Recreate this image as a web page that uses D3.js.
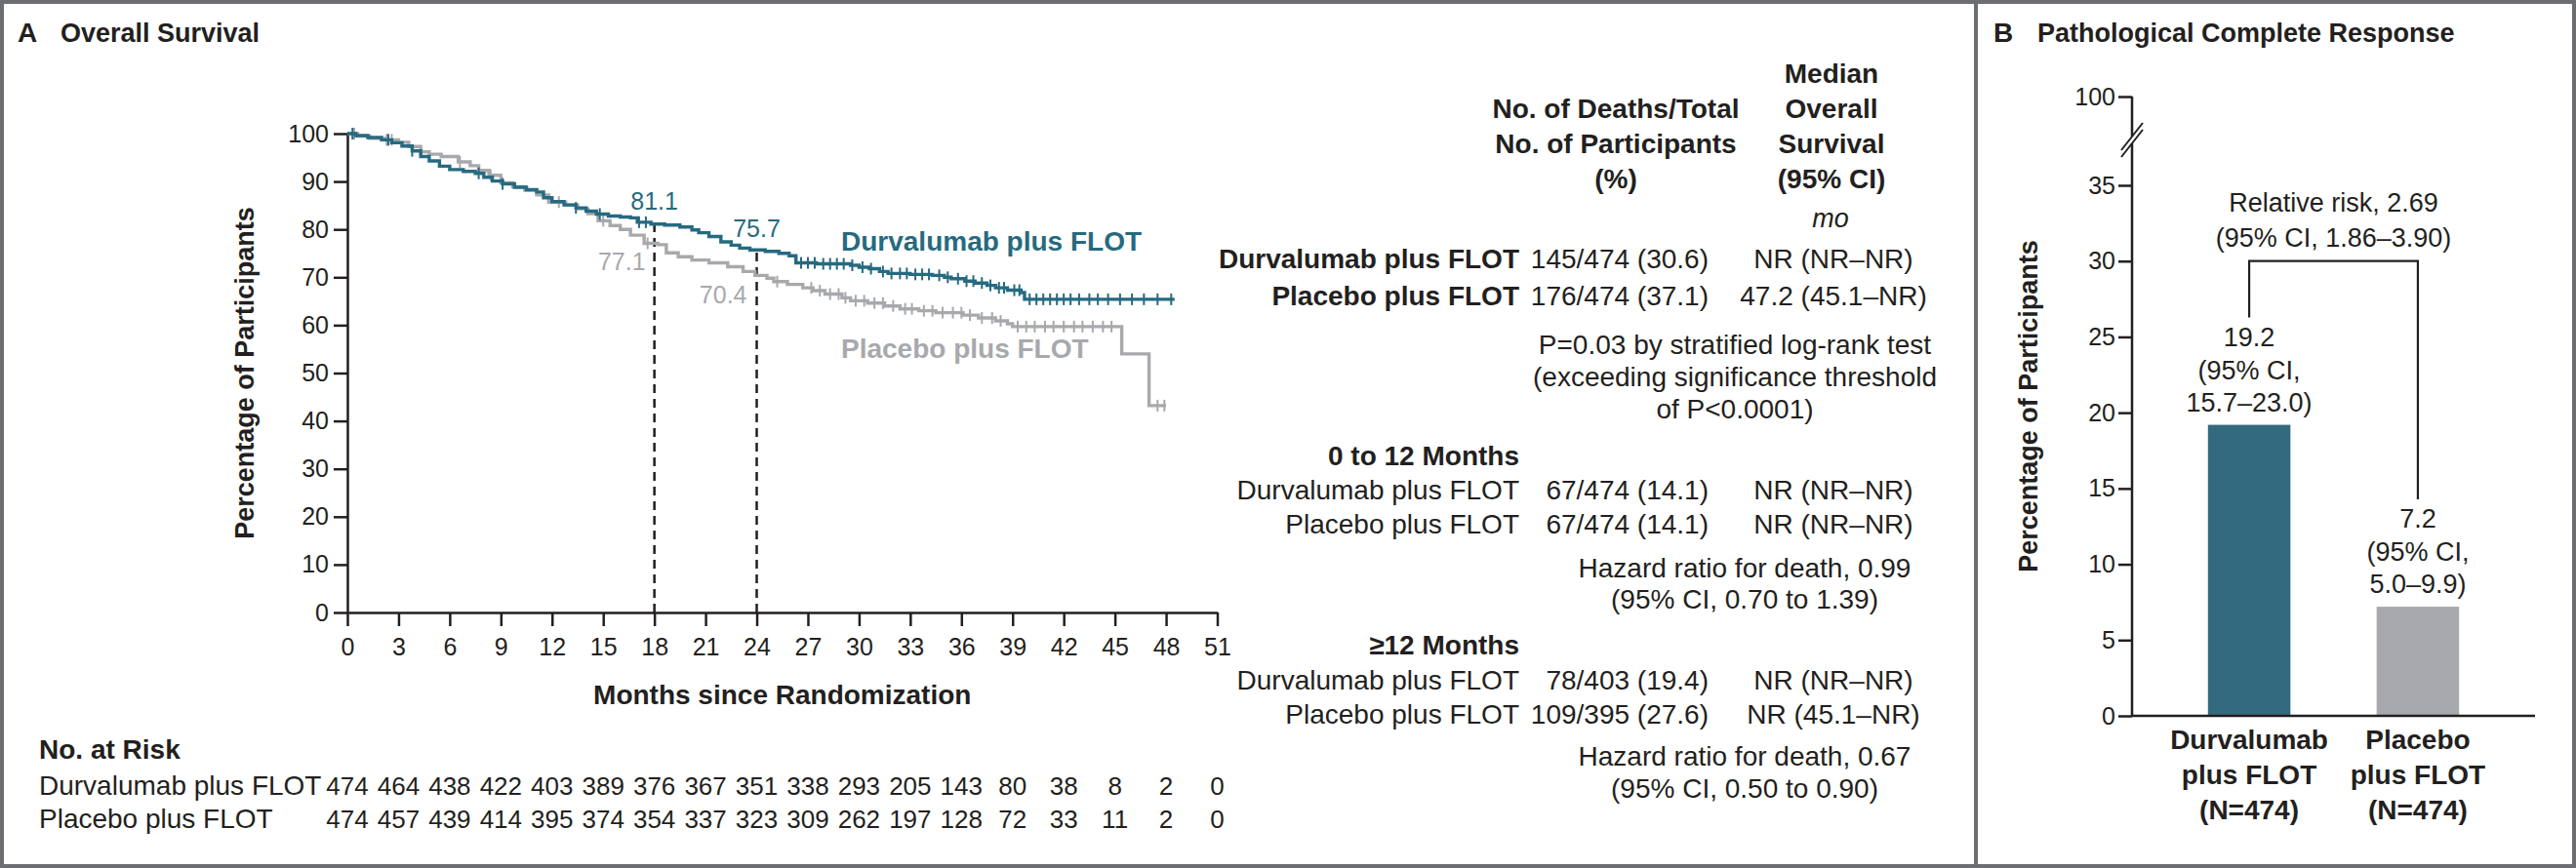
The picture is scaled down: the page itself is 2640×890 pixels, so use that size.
<!DOCTYPE html>
<html>
<head>
<meta charset="utf-8">
<script src="https://cdn.jsdelivr.net/npm/d3@7"></script>
<style>
  body { margin: 0; background: #fff; }
  svg { display: block; font-family: "Liberation Sans", Arial, sans-serif; }
</style>
</head>
<body>
<svg id="chart" width="2640" height="890"></svg>
<script>
// ---------- data ----------
const riskMonths = [0, 3, 6, 9, 12, 15, 18, 21, 24, 27, 30, 33, 36, 39, 42, 45, 48, 51];
const durvRisk = [474, 464, 438, 422, 403, 389, 376, 367, 351, 338, 293, 205, 143, 80, 38, 8, 2, 0];
const placRisk = [474, 457, 439, 414, 395, 374, 354, 337, 323, 309, 262, 197, 128, 72, 33, 11, 2, 0];
const osTicks = [0, 10, 20, 30, 40, 50, 60, 70, 80, 90, 100];

// Kaplan-Meier steps (months, % alive)
const durvT = [0, 0.5, 1.2, 2.0, 2.6, 3.2, 3.8, 4.3, 4.8, 5.4, 6.0, 6.8, 7.5, 8.0, 8.5, 9.1, 9.8, 10.5, 11.1, 11.5,
  12.0, 12.7, 13.4, 14.0, 14.6, 15.3, 16.0, 16.6, 17.0, 17.8, 18.6, 19.5, 20.2, 20.6, 21.2, 21.9, 22.5, 23.0, 23.6, 24.5,
  25.3, 25.9, 26.3, 27.5, 29.5, 30.0, 30.6, 31.2, 31.7, 33.0, 34.3, 35.0, 35.4, 36.2, 36.8, 37.5, 38.0, 38.7, 39.5, 39.7, 48.5];
const durvS = [100, 99.6, 99.2, 98.7, 98.1, 97.4, 96.4, 95.2, 94.3, 93.2, 92.5, 92.1, 91.7, 90.9, 90.1, 89.5, 88.8, 88.3, 87.8, 86.6,
  85.8, 85.1, 84.5, 83.8, 83.2, 82.8, 82.6, 82.4, 81.5, 81.1, 80.9, 80.5, 79.9, 79.3, 78.5, 77.4, 76.7, 76.1, 75.7, 75.4,
  75.0, 74.5, 73.0, 72.8, 72.5, 72.1, 71.8, 71.2, 70.8, 70.6, 70.4, 70.0, 69.7, 69.2, 68.8, 68.3, 67.8, 67.3, 66.8, 65.4, 65.4];
const placT = [0, 0.6, 1.3, 2.2, 3.0, 3.6, 4.3, 4.8, 5.5, 6.5, 7.2, 7.7, 8.3, 9.0, 9.7, 10.4, 11.1, 11.8, 12.8, 13.5,
  14.1, 14.7, 15.4, 16.0, 16.6, 17.4, 18.2, 18.7, 19.4, 20.2, 21.2, 22.3, 23.2, 23.9, 24.6, 25.0, 25.8, 26.7, 27.3, 28.0,
  29.0, 29.5, 30.5, 31.5, 32.4, 33.5, 34.5, 36.1, 37.0, 38.0, 38.7, 39.0, 45.4, 47.0, 48.0];
const placS = [100, 99.5, 99.0, 98.7, 98.2, 97.3, 96.2, 95.7, 95.2, 94.1, 93.3, 92.3, 91.3, 89.7, 88.9, 88.2, 87.2, 85.7, 85.1, 84.3,
  83.3, 81.8, 80.8, 80.0, 78.8, 77.1, 76.8, 75.1, 74.3, 73.6, 73.0, 72.2, 71.2, 70.4, 69.8, 69.1, 68.5, 67.8, 67.2, 66.5,
  65.7, 65.1, 64.6, 64.0, 63.4, 63.0, 62.6, 62.1, 61.5, 60.9, 60.3, 59.7, 54.0, 43.2, 43.2];
// censoring times
const durvCens = [0.3, 2.4, 3.8, 7.7, 9.1, 13.4, 14.8, 17.1, 17.5, 26.6, 27.0, 27.4, 27.9, 28.3, 28.7, 29.1, 29.6, 30.2, 30.7,
  31.4, 31.9, 32.4, 32.8, 33.3, 33.7, 34.1, 34.7, 35.2, 35.8, 36.3, 36.7, 37.2, 37.7, 38.2, 38.5, 39.1, 39.4, 40.0, 40.4,
  40.8, 41.2, 41.6, 42.0, 42.4, 42.9, 43.5, 44.0, 44.6, 45.3, 46.0, 46.7, 47.5, 48.3];
const placCens = [0.4, 2.3, 2.6, 6.6, 8.4, 12.4, 15.0, 17.6, 25.2, 27.2, 27.7, 28.3, 28.8, 29.2, 29.8, 30.3, 30.9, 31.4, 32.0,
  32.7, 33.1, 33.8, 34.3, 34.9, 35.5, 36.0, 36.5, 37.2, 37.8, 38.3, 39.3, 39.8, 40.3, 40.9, 41.4, 42.0, 42.6, 43.1, 43.7,
  44.3, 44.8, 47.5, 47.9];

const landmarks = [18, 24];
const durvLandmark = ["81.1", "75.7"];
const placLandmark = ["77.1", "70.4"];

// table beside the curves
const colHead1 = ["No. of Deaths/Total", "No. of Participants", "(%)"];
const colHead2 = ["Median", "Overall", "Survival", "(95% CI)"];
const overallRows = [
  ["Durvalumab plus FLOT", "145/474 (30.6)", "NR (NR\u2013NR)"],
  ["Placebo plus FLOT", "176/474 (37.1)", "47.2 (45.1\u2013NR)"]
];
const overallNote = ["P=0.03 by stratified log-rank test", "(exceeding significance threshold", "of P<0.0001)"];
const earlyRows = [
  ["Durvalumab plus FLOT", "67/474 (14.1)", "NR (NR\u2013NR)"],
  ["Placebo plus FLOT", "67/474 (14.1)", "NR (NR\u2013NR)"]
];
const earlyNote = ["Hazard ratio for death, 0.99", "(95% CI, 0.70 to 1.39)"];
const lateRows = [
  ["Durvalumab plus FLOT", "78/403 (19.4)", "NR (NR\u2013NR)"],
  ["Placebo plus FLOT", "109/395 (27.6)", "NR (45.1\u2013NR)"]
];
const lateNote = ["Hazard ratio for death, 0.67", "(95% CI, 0.50 to 0.90)"];

// panel B
const pcrGroups = ["Durvalumab plus FLOT", "Placebo plus FLOT"];
const pcrLabels = [["Durvalumab", "plus FLOT", "(N=474)"], ["Placebo", "plus FLOT", "(N=474)"]];
const pcrValues = [19.2, 7.2];
const pcrCI = ["15.7\u201323.0)", "5.0\u20139.9)"];
const pcrTicks = [0, 5, 10, 15, 20, 25, 30, 35, 100];
const relRisk = ["Relative risk, 2.69", "(95% CI, 1.86\u20133.90)"];

// ---------- drawing ----------
const ink = "#231f20";
const teal = "#266a80";
const grey = "#a7a9ac";
const svg = d3.select("#chart");

function txt(x, y, s, size, opts = {}) {
  return svg.append("text")
    .attr("x", x).attr("y", y)
    .attr("font-size", size)
    .attr("font-weight", opts.bold ? "bold" : null)
    .attr("font-style", opts.italic ? "italic" : null)
    .attr("text-anchor", opts.anchor || "start")
    .attr("fill", opts.fill || ink)
    .text(s);
}

function styleAxis(g, size) {
  g.attr("font-family", null).attr("font-size", null);
  g.selectAll("path, line").attr("stroke", ink).attr("stroke-width", 2.5);
  g.selectAll("text").attr("fill", ink).attr("font-size", size);
}

// frame
svg.append("rect").attr("x", 2).attr("y", 2).attr("width", 2636).attr("height", 886)
  .attr("fill", "none").attr("stroke", "#6d6e71").attr("stroke-width", 4);
svg.append("line").attr("x1", 2025).attr("x2", 2025).attr("y1", 0).attr("y2", 890)
  .attr("stroke", "#6d6e71").attr("stroke-width", 4);

// panel titles
txt(18, 43, "A", 28, { bold: true });
txt(62, 43, "Overall Survival", 27, { bold: true });
txt(2043, 43, "B", 28, { bold: true });
txt(2088, 43, "Pathological Complete Response", 27, { bold: true });

// ----- panel A : Kaplan-Meier -----
const x = d3.scaleLinear().domain([0, 51]).range([356, 1247.5]);
const y = d3.scaleLinear().domain([0, 100]).range([628, 137]);

svg.append("g").attr("transform", `translate(0,${y(0)})`)
  .call(d3.axisBottom(x).tickValues(riskMonths).tickSize(14).tickSizeOuter(0).tickPadding(12))
  .call(g => styleAxis(g, 25));
svg.append("g").attr("transform", `translate(${x(0)},0)`)
  .call(d3.axisLeft(y).tickValues(osTicks).tickSize(14).tickSizeOuter(0).tickPadding(5))
  .call(g => styleAxis(g, 25));

svg.append("text")
  .attr("transform", `translate(260,${(y(0) + y(100)) / 2}) rotate(-90)`)
  .attr("text-anchor", "middle").attr("font-size", 27).attr("font-weight", "bold").attr("fill", ink)
  .text("Percentage of Participants");
txt((x(0) + x(51)) / 2, 722, "Months since Randomization", 28, { bold: true, anchor: "middle" });

// landmark dashed lines
landmarks.forEach((m, i) => {
  svg.append("line").attr("x1", x(m)).attr("x2", x(m))
    .attr("y1", y(0)).attr("y2", y(+durvLandmark[i]))
    .attr("stroke", ink).attr("stroke-width", 2.5).attr("stroke-dasharray", "9,6");
});

const line = d3.line().curve(d3.curveStepAfter).x(d => x(d[0])).y(d => y(d[1]));
function stepAt(T, S, t) {
  let v = S[0];
  for (let i = 0; i < T.length; i++) if (T[i] <= t) v = S[i];
  return v;
}
function drawCurve(T, S, cens, color) {
  svg.append("path").datum(d3.zip(T, S))
    .attr("fill", "none").attr("stroke", color).attr("stroke-width", 3.4)
    .attr("d", line);
  svg.append("g").selectAll("line").data(cens).join("line")
    .attr("x1", d => x(d)).attr("x2", d => x(d))
    .attr("y1", d => y(stepAt(T, S, d)) - 6).attr("y2", d => y(stepAt(T, S, d)) + 6)
    .attr("stroke", color).attr("stroke-width", 2);
}
drawCurve(placT, placS, placCens, grey);
drawCurve(durvT, durvS, durvCens, teal);

// landmark values
txt(x(18), 215, durvLandmark[0], 25, { anchor: "middle", fill: teal });
txt(x(24), 243, durvLandmark[1], 25, { anchor: "middle", fill: teal });
txt(x(18) - 9, 277, placLandmark[0], 25, { anchor: "end", fill: grey });
txt(x(24) - 10, 311, placLandmark[1], 25, { anchor: "end", fill: grey });

txt(862, 257, "Durvalumab plus FLOT", 28, { bold: true, fill: teal });
txt(862, 367, "Placebo plus FLOT", 28, { bold: true, fill: grey });

// number at risk
txt(40, 778, "No. at Risk", 28, { bold: true });
txt(40, 815, "Durvalumab plus FLOT", 28);
txt(40, 849, "Placebo plus FLOT", 28);
svg.append("g").selectAll("text").data(durvRisk).join("text")
  .attr("x", (d, i) => x(riskMonths[i])).attr("y", 815)
  .attr("text-anchor", "middle").attr("font-size", 26).attr("fill", ink).text(d => d);
svg.append("g").selectAll("text").data(placRisk).join("text")
  .attr("x", (d, i) => x(riskMonths[i])).attr("y", 849)
  .attr("text-anchor", "middle").attr("font-size", 26).attr("fill", ink).text(d => d);

// table
const col1Right = 1751, col2Mid = 1879, labRight = 1557;
colHead1.forEach((s, i) => txt(1656, 121 + i * 36, s, 28, { bold: true, anchor: "middle" }));
colHead2.forEach((s, i) => txt(col2Mid - 2, 85 + i * 36, s, 28, { bold: true, anchor: "middle" }));
txt(col2Mid - 3, 233, "mo", 27, { italic: true, anchor: "middle" });

function rows(data, y0, bold) {
  data.forEach((r, i) => {
    const yy = y0 + i * (bold ? 38 : 35);
    txt(labRight, yy, r[0], 28, { bold: bold, anchor: "end" });
    txt(col1Right, yy, r[1], 28, { anchor: "end" });
    txt(col2Mid, yy, r[2], 28, { anchor: "middle" });
  });
}
rows(overallRows, 275, true);
overallNote.forEach((s, i) => txt(1778, 363 + i * 33, s, 28, { anchor: "middle" }));

txt(labRight, 477, "0 to 12 Months", 28, { bold: true, anchor: "end" });
rows(earlyRows, 512, false);
earlyNote.forEach((s, i) => txt(1788, 592 + i * 32, s, 28, { anchor: "middle" }));

txt(labRight, 671, "\u226512 Months", 28, { bold: true, anchor: "end" });
rows(lateRows, 707, false);
lateNote.forEach((s, i) => txt(1788, 785 + i * 33, s, 28, { anchor: "middle" }));

// ----- panel B : bar chart -----
const xb = d3.scaleBand().domain(pcrGroups).range([2185, 2598]).paddingInner(0.511).paddingOuter(0.45);
const yb = d3.scaleLinear().domain([0, 35, 100]).range([734, 190, 99]);

svg.append("g").selectAll("rect").data(pcrGroups).join("rect")
  .attr("x", d => xb(d)).attr("width", xb.bandwidth())
  .attr("y", (d, i) => yb(pcrValues[i])).attr("height", (d, i) => yb(0) - yb(pcrValues[i]))
  .attr("fill", (d, i) => i === 0 ? "#336a80" : grey);

const yAxisB = svg.append("g").attr("transform", "translate(2185,0)")
  .call(d3.axisLeft(yb).tickValues(pcrTicks).tickSize(14).tickSizeOuter(0).tickPadding(3))
  .call(g => styleAxis(g, 25));
yAxisB.select(".domain").remove();
// broken axis
svg.append("line").attr("x1", 2185).attr("x2", 2185).attr("y1", yb(0)).attr("y2", 147)
  .attr("stroke", ink).attr("stroke-width", 2.5);
svg.append("line").attr("x1", 2185).attr("x2", 2185).attr("y1", 140).attr("y2", yb(100))
  .attr("stroke", ink).attr("stroke-width", 2.5);
[140, 147].forEach(c => {
  svg.append("line").attr("x1", 2174).attr("x2", 2196).attr("y1", c + 14).attr("y2", c - 14)
    .attr("stroke", ink).attr("stroke-width", 2);
});
svg.append("line").attr("x1", 2185).attr("x2", 2598).attr("y1", yb(0)).attr("y2", yb(0))
  .attr("stroke", ink).attr("stroke-width", 2.5);

svg.append("text")
  .attr("transform", `translate(2088,${(yb(0) + yb(100)) / 2}) rotate(-90)`)
  .attr("text-anchor", "middle").attr("font-size", 27).attr("font-weight", "bold").attr("fill", ink)
  .text("Percentage of Participants");

pcrGroups.forEach((g, i) => {
  const cx = xb(g) + xb.bandwidth() / 2;
  pcrLabels[i].forEach((s, k) => txt(cx, 768 + k * 36, s, 28, { bold: true, anchor: "middle" }));
  const top = yb(pcrValues[i]);
  txt(cx, top - 81, pcrValues[i].toFixed(1), 27, { anchor: "middle" });
  txt(cx, top - 47, "(95% CI,", 27, { anchor: "middle" });
  txt(cx, top - 14, pcrCI[i], 27, { anchor: "middle" });
});

// relative risk bracket
const c0 = xb(pcrGroups[0]) + xb.bandwidth() / 2;
const c1 = xb(pcrGroups[1]) + xb.bandwidth() / 2;
svg.append("path")
  .attr("d", `M${c0},${yb(pcrValues[0]) - 110}V${yb(30)}H${c1}V${yb(pcrValues[1]) - 110}`)
  .attr("fill", "none").attr("stroke", ink).attr("stroke-width", 2.2);
relRisk.forEach((s, i) => txt((c0 + c1) / 2, 217 + i * 36, s, 27, { anchor: "middle" }));
</script>
</body>
</html>
